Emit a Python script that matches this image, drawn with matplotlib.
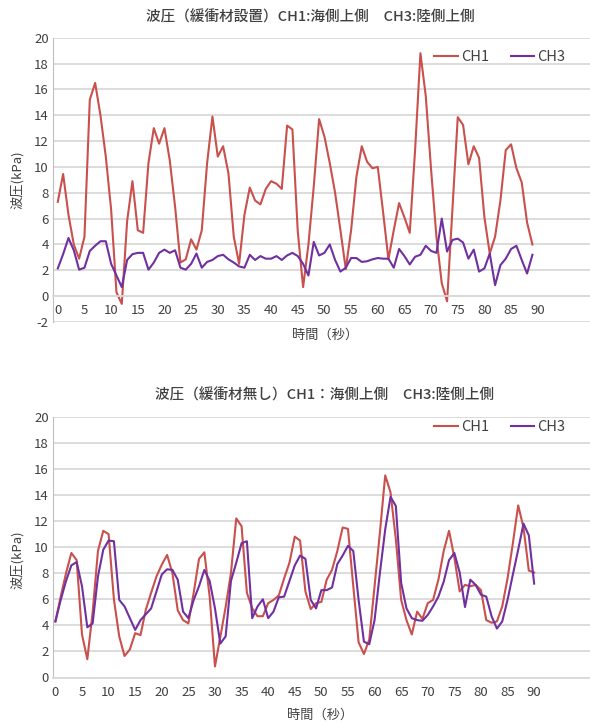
import matplotlib
matplotlib.use("Agg")
import matplotlib.pyplot as plt
import numpy as np

plt.rcParams['font.family'] = ['Noto Sans CJK JP', 'DejaVu Sans']
plt.rcParams['axes.unicode_minus'] = False

# ---- Data: top chart (緩衝材設置), t = 0..89 s ----
top_time = list(range(90))
top_ch1 = [7.3, 9.45, 6.3, 4.0, 2.9, 4.6, 15.2, 16.5, 14.0, 10.8,
           6.7, 0.3, -0.6, 5.8, 8.9, 5.1, 4.9, 10.3, 13.0, 11.8,
           13.0, 10.5, 6.9, 2.6, 2.85, 4.4, 3.6, 5.1, 10.3, 13.9,
           10.8, 11.6, 9.5, 4.6, 2.5, 6.3, 8.4, 7.4, 7.1, 8.3,
           8.9, 8.7, 8.3, 13.2, 12.9, 5.0, 0.7, 4.0, 8.5, 13.7,
           12.35, 10.3, 8.0, 5.1, 2.1, 5.1, 9.25, 11.6, 10.4, 9.9,
           10.0, 6.5, 2.85, 5.1, 7.2, 6.1, 4.9, 11.3, 18.8, 15.5,
           9.8, 4.6, 1.0, -0.4, 6.7, 13.85, 13.25, 10.2, 11.6, 10.7,
           6.1, 3.3, 4.6, 7.4, 11.3, 11.75, 9.9, 8.8, 5.7, 4.0]
top_ch3 = [2.15, 3.25, 4.5, 3.55, 2.05, 2.2, 3.5, 3.9, 4.25, 4.25,
           2.5, 1.6, 0.7, 2.8, 3.25, 3.35, 3.35, 2.05, 2.6, 3.35,
           3.6, 3.35, 3.55, 2.2, 2.05, 2.5, 3.3, 2.2, 2.65, 2.8,
           3.1, 3.2, 2.85, 2.6, 2.3, 2.2, 3.2, 2.8, 3.1, 2.9,
           2.9, 3.1, 2.8, 3.15, 3.35, 3.1, 2.5, 1.6, 4.2, 3.15,
           3.35, 4.0, 2.8, 1.9, 2.2, 2.95, 2.95, 2.65, 2.7, 2.85,
           2.95, 2.9, 2.9, 2.2, 3.65, 3.1, 2.45, 3.05, 3.2, 3.9,
           3.5, 3.35, 6.0, 3.45, 4.35, 4.45, 4.15, 2.9, 3.6, 1.9,
           2.15, 3.3, 0.85, 2.4, 2.9, 3.65, 3.9, 2.8, 1.75, 3.2]

# ---- Data: bottom chart (緩衝材無し), t = 0..90 s ----
bot_time = list(range(91))
bot_ch1 = [4.3, 6.2, 8.0, 9.55, 9.0, 3.3, 1.4, 5.0, 9.7, 11.25,
           11.0, 6.0, 3.15, 1.65, 2.15, 3.4, 3.25, 5.2, 6.5, 7.75,
           8.65, 9.4, 8.0, 5.15, 4.4, 4.15, 6.5, 9.1, 9.6, 6.2,
           0.85, 3.1, 5.4, 8.0, 12.2, 11.6, 6.5, 5.3, 4.7, 4.7,
           5.7, 5.95, 6.3, 7.6, 8.8, 10.8, 10.5, 6.6, 5.25, 5.7,
           5.8, 7.5, 8.25, 9.7, 11.5, 11.4, 7.0, 2.7, 1.8, 2.9,
           7.0, 11.1, 15.5, 14.2, 10.6, 5.95, 4.4, 3.3, 5.05, 4.5,
           5.7, 5.95, 7.5, 9.7, 11.25, 9.2, 6.6, 7.1, 7.0, 7.1,
           6.7, 4.4, 4.2, 4.3, 5.45, 7.6, 10.3, 13.2, 11.5, 8.2, 8.05]
bot_ch3 = [4.3, 5.95, 7.4, 8.6, 8.85, 7.0, 3.85, 4.15, 7.75, 9.8,
           10.5, 10.45, 5.95, 5.45, 4.55, 3.65, 4.4, 4.85, 5.3, 6.6,
           7.9, 8.3, 8.25, 7.5, 5.05, 4.55, 5.95, 7.0, 8.25, 7.4,
           5.3, 2.6, 3.15, 7.4, 8.8, 10.3, 10.45, 4.55, 5.45, 6.0,
           4.55, 5.05, 6.15, 6.2, 7.4, 8.6, 9.35, 9.1, 5.95, 5.3,
           6.7, 6.7, 6.9, 8.7, 9.35, 10.1, 9.7, 5.95, 2.75, 2.55,
           4.4, 8.0, 11.35, 13.85, 13.15, 7.25, 5.3, 4.55, 4.4, 4.35,
           4.8, 5.45, 6.2, 7.35, 9.0, 9.55, 8.05, 5.4, 7.5, 7.1,
           6.35, 6.2, 4.7, 3.75, 4.3, 5.95, 7.9, 9.8, 11.8, 10.9, 7.2]

x_ticks = list(range(0, 95, 5))
top_yticks = list(range(-2, 21, 2))
bot_yticks = list(range(0, 21, 2))

top_title = "波圧（緩衝材設置）CH1:海側上側　CH3:陸側上側"
bot_title = "波圧（緩衝材無し）CH1：海側上側　CH3:陸側上側"
ylabel = "波圧(kPa)"
xlabel = "時間（秒）"

RED = '#C8504D'
PURPLE = '#7030A0'
GRID = '#D9D9D9'
TXT = '#404040'

W, H = 590, 724
fig = plt.figure(figsize=(W / 100, H / 100), dpi=100)


def make_axes(rect_px, t, ch1, ch3, yticks, ylim, xlim, title, title_xy, xlabel_xy, legend_xy, ylabel_xy):
    l, top, r, bottom = rect_px
    ax = fig.add_axes([l / W, 1 - bottom / H, (r - l) / W, (bottom - top) / H])
    ax.plot(t, ch1, color=RED, lw=1.5, label='CH1')
    ax.plot(t, ch3, color=PURPLE, lw=1.5, label='CH3')
    ax.set_ylim(*ylim)
    ax.set_xlim(*xlim)
    ax.set_yticks(yticks)
    ax.set_xticks(x_ticks)
    ax.grid(axis='y', color=GRID, lw=1.3)
    ax.set_axisbelow(True)
    for s in ['top', 'right']:
        ax.spines[s].set_visible(False)
    ax.spines['left'].set_color('#BFBFBF')
    ax.spines['bottom'].set_color(GRID)
    ax.spines['bottom'].set_linewidth(1.3)
    ax.spines['bottom'].set_position(('data', 0))
    ax.tick_params(axis='both', length=0, labelsize=9.5, colors=TXT, pad=3)
    ax.tick_params(axis='x', pad=6)
    fig.text(title_xy[0] / W, 1 - title_xy[1] / H, title, ha='center', va='center',
             fontsize=10.5, color=TXT, fontweight='medium')
    fig.text(xlabel_xy[0] / W, 1 - xlabel_xy[1] / H, xlabel, ha='center', va='center',
             fontsize=9.5, color=TXT)
    fig.text(ylabel_xy[0] / W, 1 - ylabel_xy[1] / H, ylabel, ha='center', va='center',
             fontsize=9.5, color=TXT, rotation=90)
    ax.legend(loc='center right', bbox_to_anchor=(legend_xy[0] / W, 1 - legend_xy[1] / H),
              bbox_transform=fig.transFigure, ncol=2, frameon=False, fontsize=10.5,
              handlelength=1.6, handletextpad=0.2, columnspacing=1.5, labelcolor=TXT)
    return ax


make_axes((53, 37.7, 590, 322), top_time, top_ch1, top_ch3, top_yticks, (-2, 20), (-0.9, 99.8),
          top_title, (310, 17), (325, 335), (578, 57), (17, 180))
make_axes((53, 416.7, 590, 677.5), bot_time, bot_ch1, bot_ch3, bot_yticks, (0, 20), (-0.45, 100.5),
          bot_title, (325, 395), (320, 715), (578, 427), (17, 560))

fig.savefig('out.png', dpi=100)
